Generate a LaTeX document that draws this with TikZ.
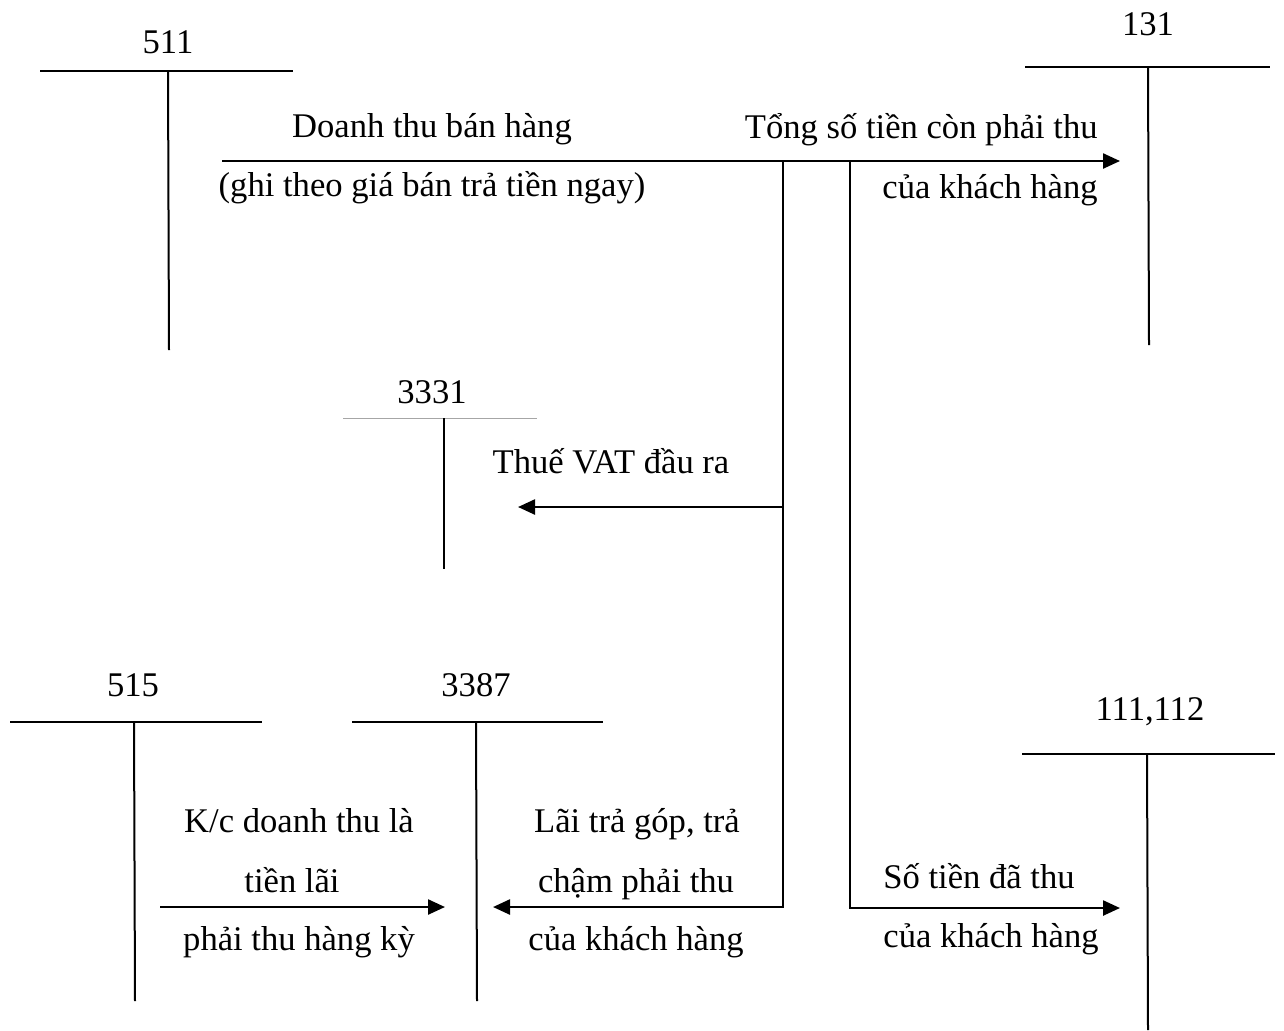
\documentclass[tikz,border=0pt]{standalone}
\usepackage{fontspec}
\setmainfont{Liberation Serif}
\usetikzlibrary{arrows.meta}
\begin{document}
\begin{tikzpicture}[x=0.5pt,y=-0.5pt,
  acct/.style={line width=1pt},
  thinacct/.style={line width=0.5pt,black!35},
  link/.style={line width=1.2pt,line join=miter},
  flow/.style={link,-{Triangle[length=8.5pt,width=7.5pt]}},
  lbl/.style={font=\fontsize{17.3}{20}\selectfont,inner sep=0pt,anchor=base},
  lblr/.style={lbl,anchor=base east},
  lbll/.style={lbl,anchor=base west}]
\useasboundingbox (0,0) rectangle (1284,1030);

% T-accounts: title, top bar and centre stem
\node[lbl] (n511) at (168,53) {511};
\draw[acct] (40,71) -- (293,71);
\draw[acct] (168,71) -- (169,350);

\node[lbl] (n131) at (1148,35) {131};
\draw[acct] (1025,67) -- (1270,67);
\draw[acct] (1148,67) -- (1149,345);

\node[lbl] (n3331) at (432,403) {3331};
\draw[thinacct] (343,418) -- (537,418);
\draw[acct] (444,418) -- (444,569);

\node[lbl] (n515) at (133,696) {515};
\draw[acct] (10,722) -- (262,722);
\draw[acct] (134,722) -- (135,1001);

\node[lbl] (n3387) at (476,696) {3387};
\draw[acct] (352,722) -- (603,722);
\draw[acct] (476,722) -- (477,1001);

\node[lbl] (n111) at (1150,720) {111,112};
\draw[acct] (1022,754) -- (1275,754);
\draw[acct] (1147,754) -- (1148,1030);

% connector end points
\coordinate (s511) at (222,161);
\coordinate (j1) at (783,161);
\coordinate (j2) at (850,161);
\coordinate (t131) at (1120,161);
\coordinate (v1) at (783,507);
\coordinate (t3331) at (518,507);
\coordinate (t3387) at (493,907);
\coordinate (t111) at (1120,908);
\coordinate (s515) at (160,907);
\coordinate (t515) at (445,907);

% flows
\draw[flow] (s511) -- (t131);
\draw[flow] (v1) -- (t3331);
\draw[flow] (j1) |- (t3387);
\draw[flow] (j2) |- (t111);
\draw[flow] (s515) -- (t515);

% entry descriptions
\node[lbl] (d1a) at (432,137) {Doanh thu bán hàng};
\node[lbl] (d1b) at (432,196) {(ghi theo giá bán trả tiền ngay)};
\node[lblr] (d2a) at (1098,138) {Tổng số tiền còn phải thu};
\node[lblr] (d2b) at (1098,198) {của khách hàng};
\node[lbl] (d3) at (611,473) {Thuế VAT đầu ra};
\node[lbl] (d4a) at (299,832) {K/c doanh thu là};
\node[lbl] (d4b) at (292,892) {tiền lãi};
\node[lbl] (d4c) at (299,950) {phải thu hàng kỳ};
\node[lbl] (d5a) at (637,832) {Lãi trả góp, trả};
\node[lbl] (d5b) at (636,892) {chậm phải thu};
\node[lbl] (d5c) at (636,950) {của khách hàng};
\node[lbll] (d6a) at (883,888) {Số tiền đã thu};
\node[lbll] (d6b) at (883,947) {của khách hàng};
\end{tikzpicture}
\end{document}
